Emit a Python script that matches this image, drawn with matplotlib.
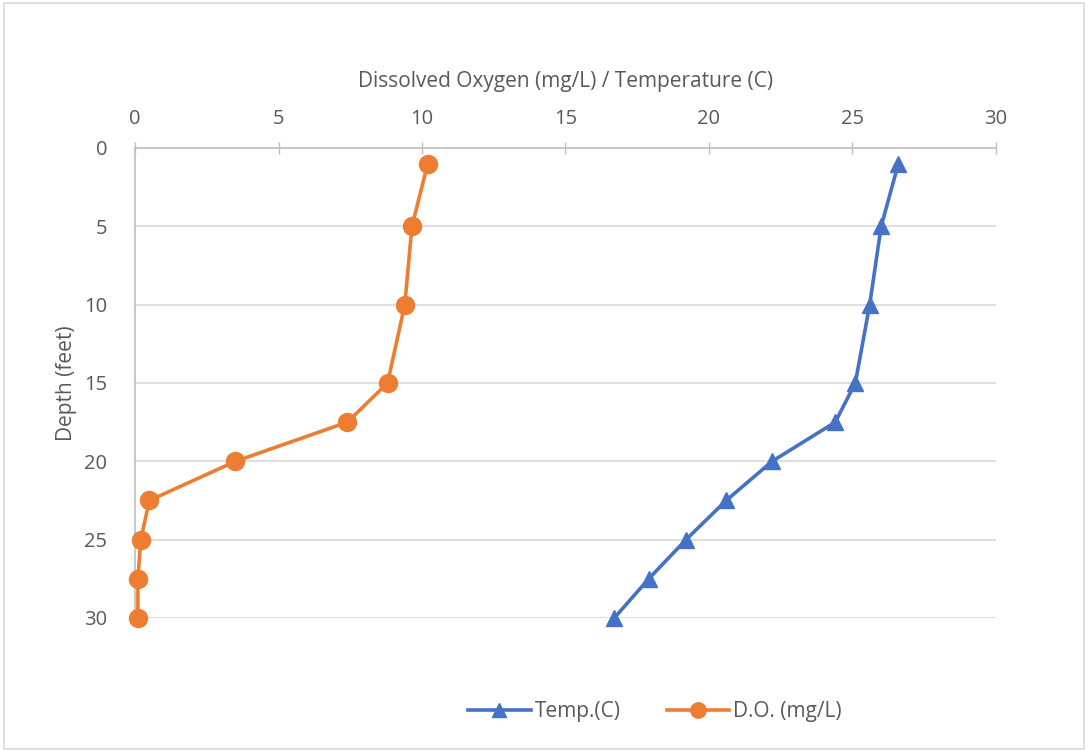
import matplotlib.pyplot as plt
from matplotlib.patches import Rectangle

depth = [1, 5, 10, 15, 17.5, 20, 22.5, 25, 27.5, 30]
temp_c = [26.6, 26.0, 25.6, 25.1, 24.4, 22.2, 20.6, 19.2, 17.9, 16.7]
do_mgl = [10.2, 9.65, 9.4, 8.8, 7.4, 3.5, 0.5, 0.2, 0.1, 0.1]

plt.rcParams['font.family'] = ['Open Sans', 'DejaVu Sans']
txt = '#595959'
gridc = '#d9d9d9'

fig = plt.figure(figsize=(10.88, 7.52), dpi=100)
fig.patches.append(Rectangle((0.004, 0.004), 0.992, 0.992, transform=fig.transFigure,
                             fill=False, edgecolor=gridc, linewidth=1.2))
ax = fig.add_axes([0.1241, 0.1782, 0.7913, 0.625])

ax.plot(temp_c, depth, color='#4472c4', linewidth=2.6, marker='^', markersize=12,
        label='Temp.(C)', zorder=3, clip_on=False)
ax.plot(do_mgl, depth, color='#ed7d31', linewidth=2.6, marker='o', markersize=13,
        label='D.O. (mg/L)', zorder=3, clip_on=False)

ax.set_xlim(0, 30)
ax.set_ylim(30, 0)
ax.set_xticks(range(0, 31, 5))
ax.set_yticks(range(0, 31, 5))
ax.xaxis.tick_top()
ax.xaxis.set_label_position('top')
ax.tick_params(axis='x', direction='inout', length=9, width=1, color='#bfbfbf',
               labelcolor=txt, labelsize=14.5, pad=9)
ax.tick_params(axis='y', length=0, labelcolor=txt, labelsize=14.5, pad=20)
ax.grid(axis='y', color=gridc, linewidth=1.2)
for s in ['right', 'bottom']:
    ax.spines[s].set_visible(False)
ax.spines['top'].set_color('#bfbfbf')
ax.spines['left'].set_color('#bfbfbf')
ax.spines['top'].set_linewidth(1.2)
ax.spines['left'].set_linewidth(1.2)
ax.set_xlabel('Dissolved Oxygen (mg/L) / Temperature (C)', color=txt, fontsize=15, labelpad=16)
ax.set_ylabel('Depth (feet)', color=txt, fontsize=15, labelpad=5)

ax.legend(loc='center', bbox_to_anchor=(0.604, -0.2), ncol=2, frameon=False,
          fontsize=15, labelcolor=txt, handlelength=3.0, columnspacing=2.2,
          handletextpad=0.2, markerscale=0.85)

fig.savefig('out.png', dpi=100)
